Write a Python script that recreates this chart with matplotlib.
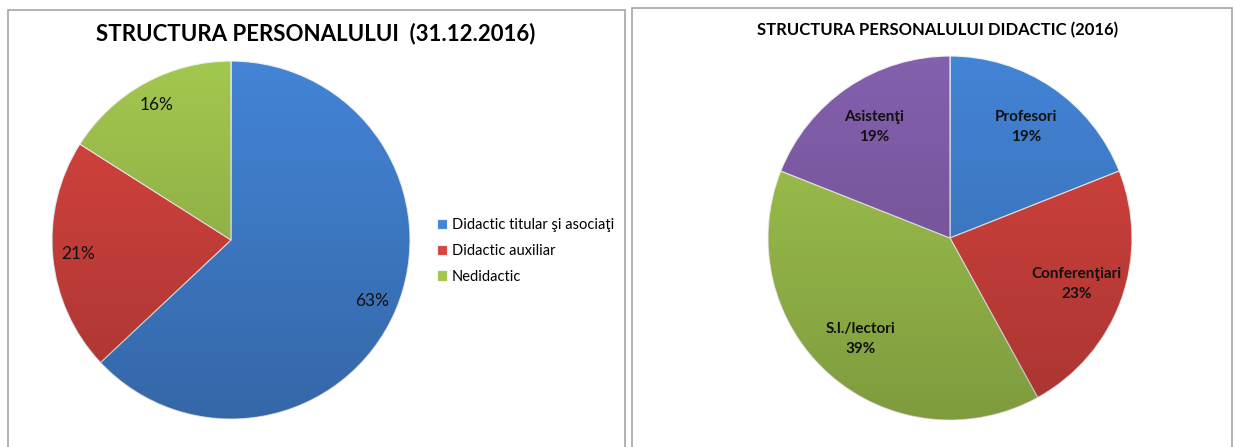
import numpy as np
import matplotlib.pyplot as plt
from matplotlib.patches import Rectangle, Circle

plt.rcParams['font.family'] = ['Lato', 'DejaVu Sans']

# left chart data
titlu_stanga = "STRUCTURA PERSONALULUI  (31.12.2016)"
categorii_personal = ["Didactic titular şi asociaţi", "Didactic auxiliar", "Nedidactic"]
procente_personal = [63, 21, 16]
culori_personal = ["#4384D6", "#D8443F", "#A2C74F"]

# right chart data
titlu_dreapta = "STRUCTURA PERSONALULUI DIDACTIC (2016)"
categorii_didactic = ["Profesori", "Conferenţiari", "S.l./lectori", "Asistenţi"]
procente_didactic = [19, 23, 39, 19]
culori_didactic = ["#4384D6", "#D8443F", "#A2C74F", "#8460AE"]

W, H = 1234, 447
fig = plt.figure(figsize=(W / 100, H / 100), dpi=100)

def px_axes(cx, cy, r):
	# axes box in pixels (top-left origin) -> figure fraction
	return fig.add_axes([(cx - r) / W, (H - cy - r) / H, 2 * r / W, 2 * r / H])

def umbra(ax):
	# darker toward the bottom, like the office gradient fill
	g = np.zeros((256, 2, 4))
	g[:, :, 3] = np.linspace(0.0, 0.22, 256)[:, None]
	im = ax.imshow(g, extent=(-1, 1, -1, 1), origin="upper", aspect="auto", zorder=3)
	im.set_clip_path(Circle((0, 0), 1, transform=ax.transData))

# panel borders
fig.patches.append(Rectangle((8 / W, -0.1), 617 / W, (H - 10) / H + 0.1, transform=fig.transFigure,
	fill=False, edgecolor="#A6A6A6", lw=1.2))
fig.patches.append(Rectangle((632 / W, -0.1), 600 / W, (H - 8) / H + 0.1, transform=fig.transFigure,
	fill=False, edgecolor="#A6A6A6", lw=1.2))

# left pie
ax1 = px_axes(231, 240, 179)
wedges1, texte1, pct1 = ax1.pie(procente_personal, colors=culori_personal, startangle=90, counterclock=False,
	autopct=lambda p: f"{p:.0f}%", pctdistance=0.86,
	wedgeprops=dict(edgecolor="#F2F2F2", linewidth=0.8),
	textprops=dict(fontsize=12.5, color="#111111"))
umbra(ax1)
for t in pct1:
	t.set_zorder(5)
ax1.set_xlim(-1, 1)
ax1.set_ylim(-1, 1)
ax1.set_aspect("equal")
ax1.axis("off")
fig.text(316 / W, 1 - 34 / H, titlu_stanga, ha="center", va="center", fontsize=16, fontweight="bold")
fig.legend(wedges1, categorii_personal, loc="center left", bbox_to_anchor=(424 / W, 1 - 251 / H),
	frameon=False, fontsize=10.5, handlelength=0.7, handleheight=0.7, handletextpad=0.3,
	labelspacing=0.8)

# right pie
etichete = iter(categorii_didactic)
ax2 = px_axes(950, 238, 182)
wedges2, texte2, pct2 = ax2.pie(procente_didactic, colors=culori_didactic, startangle=90, counterclock=False,
	autopct=lambda p: f"{next(etichete)}\n{p:.0f}%", pctdistance=0.74,
	wedgeprops=dict(edgecolor="#F2F2F2", linewidth=0.8),
	textprops=dict(fontsize=11, fontweight="bold", color="#111111", linespacing=1.55))
umbra(ax2)
for t in pct2:
	t.set_zorder(5)
ax2.set_xlim(-1, 1)
ax2.set_ylim(-1, 1)
ax2.set_aspect("equal")
ax2.axis("off")
fig.text(938 / W, 1 - 30 / H, titlu_dreapta, ha="center", va="center", fontsize=12, fontweight="bold")

fig.savefig("out.png", dpi=100)
